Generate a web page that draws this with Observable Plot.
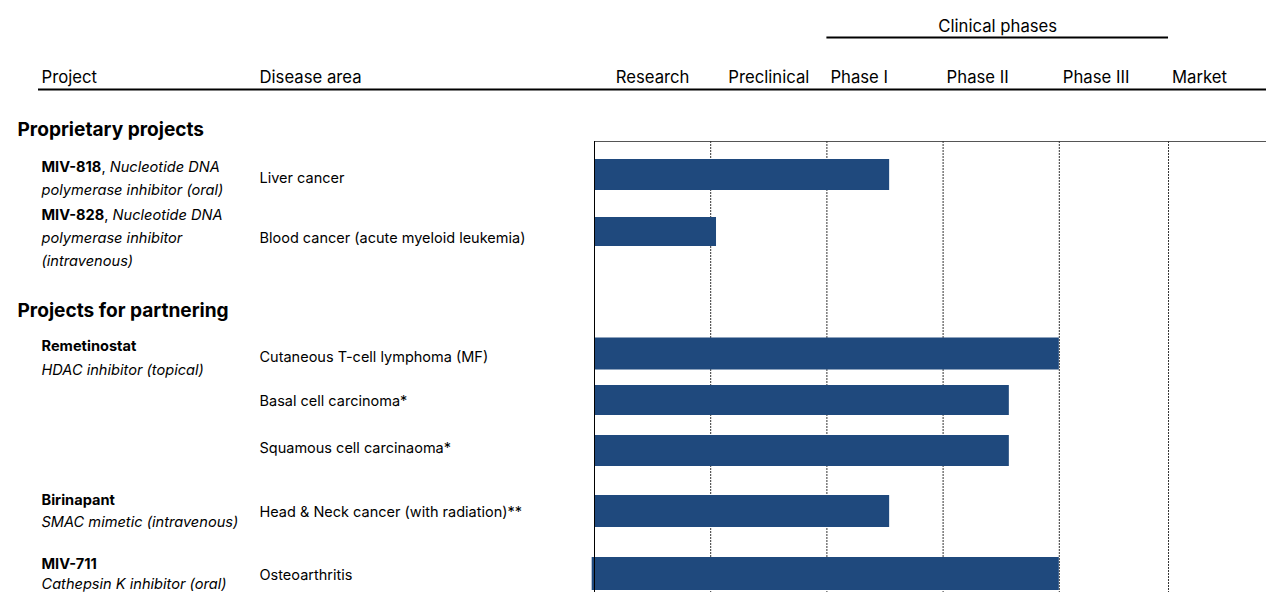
<!DOCTYPE html>
<html>
<head>
<meta charset="utf-8">
<script src="https://cdn.jsdelivr.net/npm/d3@7"></script>
<script src="https://cdn.jsdelivr.net/npm/@observablehq/plot@0.6"></script>
<style>
  html, body { margin: 0; padding: 0; background: #fff; }
  #chart svg { display: block; font-family: Inter, Lato, sans-serif; }
</style>
</head>
<body>
<div id="chart"></div>
<script>
// ---------------- DATA ----------------
const phases = ["Research", "Preclinical", "Phase I", "Phase II", "Phase III", "Market"];
// phase boundaries (in phase units)
const phaseEdges = [0, 1, 2, 3, 4, 4.94];
const clinicalTitle = "Clinical phases";
const headerLabels = ["Project", "Disease area"];
const sections = ["Proprietary projects", "Projects for partnering"];

const projectNames = ["MIV-818", "MIV-828", "Remetinostat", "Birinapant", "MIV-711"];
const projectDescriptions = [
  ["Nucleotide DNA", "polymerase inhibitor (oral)"],
  ["Nucleotide DNA", "polymerase inhibitor", "(intravenous)"],
  ["HDAC inhibitor (topical)"],
  ["SMAC mimetic (intravenous)"],
  ["Cathepsin K inhibitor (oral)"]
];
const nameInline = [true, true, false, false, false];

const indicationProject = ["MIV-818", "MIV-828", "Remetinostat", "Remetinostat", "Remetinostat", "Birinapant", "MIV-711"];
const indications = [
  "Liver cancer",
  "Blood cancer (acute myeloid leukemia)",
  "Cutaneous T-cell lymphoma (MF)",
  "Basal cell carcinoma*",
  "Squamous cell carcinaoma*",
  "Head & Neck cancer (with radiation)**",
  "Osteoarthritis"
];
const progressStart = [0, 0, 0, 0, 0, 0, -0.02];
const progressEnd = [2.54, 1.05, 4.0, 3.57, 3.57, 2.54, 4.0];

// ---------------- LAYOUT (pixels) ----------------
const W = 1266, H = 592;
const L = {
  plotLeft: 594, unit: 116.2,
  gridTop: 141,
  titleY: 26, titleRuleY: 37,
  headerY: 77, headerRuleY: 89, headerRuleLeft: 38,
  sectionX: 17, sectionY: [129, 310],
  projectX: 41, diseaseX: 259,
  projectFirstLineY: [166.5, 215, 346, 500, 563.5], lineStep: [23, 23, 24, 22, 20.5],
  barCenter: [174.5, 231.5, 353.5, 400, 450.5, 511, 573.5],
  barHalf: [15.5, 14.5, 16, 15, 15.5, 16, 16.5],
  diseaseY: [178, 238, 357, 400.5, 448, 511.5, 574.5],
  fsHeader: 16.7, fsSection: 19.1, fsProject: 14.6, fsDisease: 14.5
};

// ---------------- BUILD TABLES ----------------
const bars = indications.map((d, i) => ({
  project: indicationProject[i], indication: d,
  x1: progressStart[i], x2: progressEnd[i],
  y1: L.barCenter[i] - L.barHalf[i], y2: L.barCenter[i] + L.barHalf[i],
  ty: L.diseaseY[i]
}));

const projectLines = [];
projectNames.forEach((name, i) => {
  const desc = projectDescriptions[i];
  let lines;
  if (nameInline[i]) lines = [`**${name}**, _${desc[0]}_`, ...desc.slice(1).map(t => `_${t}_`)];
  else lines = [`**${name}**`, ...desc.map(t => `_${t}_`)];
  lines.forEach((t, j) => projectLines.push({text: t, y: L.projectFirstLineY[i] + j * L.lineStep[i]}));
});

const xMin = -L.plotLeft / L.unit, xMax = (W - L.plotLeft) / L.unit;

const phaseLabels = phases.map((p, i) => {
  const a = phaseEdges[i], b = i + 1 < phaseEdges.length ? phaseEdges[i + 1] : xMax;
  return i < 2 ? {text: p, x: (a + b) / 2, anchor: "middle"} : {text: p, x: a, anchor: "start"};
});

const chart = Plot.plot({
  width: W, height: H,
  marginTop: 0, marginRight: 0, marginBottom: 0, marginLeft: 0,
  x: {domain: [xMin, xMax], range: [0, W], axis: null},
  y: {domain: [0, H], range: [0, H], axis: null},
  style: {fontFamily: "Inter, Lato, sans-serif", color: "#000", background: "#fff"},
  marks: [
    // clinical phases title + rule
    Plot.text([clinicalTitle], {x: (phaseEdges[2] + phaseEdges[5]) / 2, y: L.titleY, text: d => d, fontSize: L.fsHeader, fill: "#000"}),
    Plot.ruleY([L.titleRuleY], {x1: phaseEdges[2], x2: phaseEdges[5], stroke: "#000", strokeWidth: 2}),
    // header row
    Plot.text([headerLabels[0]], {frameAnchor: "left", dx: L.projectX, y: L.headerY, text: d => d, textAnchor: "start", fontSize: L.fsHeader, fill: "#000"}),
    Plot.text([headerLabels[1]], {frameAnchor: "left", dx: L.diseaseX, y: L.headerY, text: d => d, textAnchor: "start", fontSize: L.fsHeader, fill: "#000"}),
    Plot.text(phaseLabels.filter(d => d.anchor === "middle"), {x: "x", y: () => L.headerY, text: "text", textAnchor: "middle", fontSize: L.fsHeader, fill: "#000"}),
    Plot.text(phaseLabels.filter(d => d.anchor === "start"), {x: "x", y: () => L.headerY, text: "text", textAnchor: "start", dx: 3.5, fontSize: L.fsHeader, fill: "#000"}),
    Plot.ruleY([L.headerRuleY], {insetLeft: L.headerRuleLeft, stroke: "#000", strokeWidth: 2}),
    // section headers
    Plot.text(sections, {frameAnchor: "left", dx: L.sectionX, y: (d, i) => L.sectionY[i], text: d => d, textAnchor: "start", fontSize: L.fsSection, fontWeight: "bold", fill: "#000"}),
    // project labels (rich)
    Plot.text(projectLines, {frameAnchor: "left", dx: L.projectX, y: "y", text: "text", textAnchor: "start", fontSize: L.fsProject, fill: "#000", className: "rich"}),
    // disease labels
    Plot.text(bars, {frameAnchor: "left", dx: L.diseaseX, y: "ty", text: "indication", textAnchor: "start", fontSize: L.fsDisease, fill: "#000"}),
    // grid frame
    Plot.ruleY([L.gridTop], {x1: 0, x2: xMax, stroke: "#555", strokeWidth: 1}),
    Plot.ruleX(phaseEdges.slice(1), {y1: L.gridTop, y2: H, stroke: "#333", strokeWidth: 1, strokeDasharray: "2,1"}),
    // bars
    Plot.rect(bars, {x1: "x1", x2: "x2", y1: "y1", y2: "y2", fill: "#1F497D"}),
    Plot.ruleX([0], {y1: L.gridTop, y2: H, stroke: "#000", strokeWidth: 1})
  ]
});

// rich text: **bold** and _italic_
d3.select(chart).selectAll("g.rich text").each(function () {
  const el = d3.select(this);
  const s = el.text();
  el.text(null);
  const re = /\*\*(.+?)\*\*|_(.+?)_|([^*_]+)/g;
  let m;
  while ((m = re.exec(s))) {
    const t = el.append("tspan");
    if (m[1] !== undefined) t.attr("font-weight", "bold").text(m[1]);
    else if (m[2] !== undefined) t.attr("font-style", "italic").text(m[2]);
    else t.text(m[3]);
  }
});

document.getElementById("chart").appendChild(chart);
</script>
</body>
</html>
